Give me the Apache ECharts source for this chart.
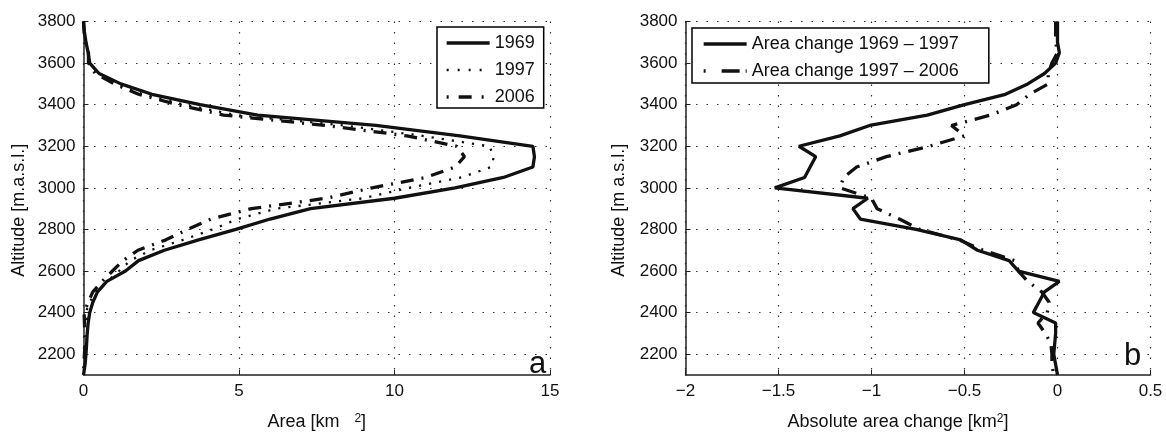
<!DOCTYPE html>
<html>
<head>
<meta charset="utf-8">
<script src="https://cdn.jsdelivr.net/npm/echarts@6/dist/echarts.min.js"></script>
<style>
html,body{margin:0;padding:0;background:#fff;}
#c{width:1166px;height:436px;}
</style>
</head>
<body>
<div id="c"></div>
<script>
const altitude = [3800,3750,3700,3650,3600,3550,3500,3450,3400,3350,3300,3250,3200,3150,3100,3050,3000,2950,2900,2850,2800,2750,2700,2650,2600,2550,2500,2450,2400,2350,2300,2250,2200,2150,2100];
const area1969 = [0,0.03,0.08,0.15,0.2,0.5,1.2,2.2,3.75,5.6,9.4,12.1,14.45,14.5,14.45,13.5,11.95,10.0,7.3,6.0,4.9,3.7,2.6,1.77,1.35,0.75,0.45,0.3,0.2,0.15,0.12,0.1,0.08,0.05,0];
const area1997 = [0,0.03,0.08,0.16,0.19,0.43,1.04,1.92,3.25,4.9,8.4,10.9,13.05,13.2,13.1,12.15,10.45,9.0,6.2,4.95,4.15,3.2,2.15,1.5,1.14,0.76,0.38,0.2,0.07,0.14,0.11,0.085,0.06,0.04,0];
const area2006 = [0,0.02,0.07,0.16,0.16,0.38,0.99,1.77,3.03,4.5,7.8,10.4,12.0,12.25,11.95,11.0,9.28,7.8,5.4,4.1,3.35,2.65,1.75,1.27,0.93,0.6,0.3,0.15,0.02,0.03,0.05,0.05,0.03,0.01,0];
const change6997 = [0,0,0,0.01,-0.01,-0.07,-0.16,-0.28,-0.5,-0.7,-1.01,-1.17,-1.39,-1.3,-1.33,-1.36,-1.52,-1.02,-1.1,-1.06,-0.76,-0.52,-0.43,-0.26,-0.21,0.01,-0.07,-0.1,-0.13,-0.01,-0.01,-0.015,-0.02,-0.01,0];
const change9706 = [-0.01,-0.01,-0.01,0,-0.03,-0.05,-0.05,-0.15,-0.22,-0.36,-0.57,-0.5,-0.69,-0.92,-1.08,-1.15,-1.17,-1.0,-0.97,-0.85,-0.74,-0.53,-0.4,-0.23,-0.21,-0.16,-0.085,-0.045,-0.055,-0.105,-0.065,-0.035,-0.03,-0.03,-0.02];
const altTicks = [2200,2400,2600,2800,3000,3200,3400,3600,3800];
const areaTicks = [0,5,10,15];
const changeTicks = [-2,-1.5,-1,-0.5,0,0.5];
const seriesNamesA = ['1969','1997','2006'];
const seriesNamesB = ['Area change 1969 \u2013 1997','Area change 1997 \u2013 2006'];

const FONT = 'Liberation Sans';
const INK = '#111';
const pairs = (xs) => xs.map((v,i) => [v, altitude[i]]);

const axisLineStyle = {color:'#222', width:1.5};
const gridDots = {type:[1.5,9], color:'#333', width:1.2};
const noSymbol = {color:'rgba(0,0,0,0)', borderWidth:0};

const solidStyle = {color:INK, width:3.3, type:'solid'};
const dotStyle = {color:INK, width:2.3, type:[2.2,8]};
const dashDotStyle = {color:INK, width:3.3, type:[13,8,2,8]};

function yAxis(gi, nameGap){
  return {
    type:'value', gridIndex:gi, min:2100, max:3800,
    name:'Altitude ' + (gi===0 ? '[m.a.s.l.]' : '[m a.s.l.]'),
    nameLocation:'middle', nameGap:nameGap,
    nameTextStyle:{fontFamily:FONT, fontSize:18, color:INK, padding:[0,24,0,0]},
    axisLine:{show:true, onZero:false, lineStyle:axisLineStyle},
    axisTick:{show:true, inside:true, length:5, customValues:altTicks, lineStyle:{color:'#222'}},
    axisLabel:{fontFamily:FONT, fontSize:17, color:INK, margin:8, customValues:altTicks, formatter:(v)=>String(v)},
    splitLine:{show:true, lineStyle:gridDots}
  };
}

const option = {
  animation:false,
  backgroundColor:'#fff',
  grid:[
    {left:83.5, top:21.5, width:466.5, height:360, show:false},
    {left:685.5, top:21.5, width:465, height:360, show:false}
  ],
  xAxis:[
    {type:'value', gridIndex:0, min:areaTicks[0], max:areaTicks[areaTicks.length-1], interval:5,
     name:'Area [km   {s|2}]', nameLocation:'middle', nameGap:38,
     nameTextStyle:{fontFamily:FONT, fontSize:18, color:INK, rich:{s:{fontFamily:FONT, fontSize:12, verticalAlign:'top', color:INK}}},
     axisLine:{show:true, onZero:false, lineStyle:axisLineStyle},
     axisTick:{show:true, inside:true, length:5, lineStyle:{color:'#222'}},
     axisLabel:{fontFamily:FONT, fontSize:17, color:INK, margin:8},
     splitLine:{show:true, lineStyle:gridDots}},
    {type:'value', gridIndex:1, min:changeTicks[0], max:changeTicks[changeTicks.length-1], interval:0.5,
     name:'Absolute area change [km{s|2}]', nameLocation:'middle', nameGap:38,
     nameTextStyle:{fontFamily:FONT, fontSize:18, color:INK, padding:[0,40,0,0], rich:{s:{fontFamily:FONT, fontSize:12, verticalAlign:'top', color:INK}}},
     axisLine:{show:true, onZero:false, lineStyle:axisLineStyle},
     axisTick:{show:true, inside:true, length:5, lineStyle:{color:'#222'}},
     axisLabel:{fontFamily:FONT, fontSize:17, color:INK, margin:8, formatter:(v)=> (v<0 ? '\u2212' + String(-v) : String(v))},
     splitLine:{show:true, lineStyle:gridDots}}
  ],
  yAxis:[ yAxis(0, 55), yAxis(1, 57) ],
  legend:[
    {data:[
       {name:seriesNamesA[0], lineStyle:{width:3.3, type:'solid'}},
       {name:seriesNamesA[1], lineStyle:{width:2.3, type:[2,9]}},
       {name:seriesNamesA[2], lineStyle:{width:3.3, type:[2,10,13,10]}}
     ],
     orient:'vertical', left:437, top:27, itemWidth:43, itemHeight:14, itemGap:9,
     padding:[7,9,2,8], borderColor:'#000', borderWidth:1.5, backgroundColor:'#fff',
     itemStyle:noSymbol,
     textStyle:{fontFamily:FONT, fontSize:18, color:INK}},
    {data:[
       {name:seriesNamesB[0], lineStyle:{width:3.3, type:'solid'}},
       {name:seriesNamesB[1], lineStyle:{width:3.3, type:[2,16,18,6]}}
     ],
     orient:'vertical', left:692, top:28, itemWidth:43, itemHeight:14, itemGap:9,
     padding:[7,30,3,10], borderColor:'#000', borderWidth:1.5, backgroundColor:'#fff',
     itemStyle:noSymbol,
     textStyle:{fontFamily:FONT, fontSize:18, color:INK}}
  ],
  series:[
    {name:seriesNamesA[0], type:'line', xAxisIndex:0, yAxisIndex:0, data:pairs(area1969), symbol:'none', z:4,
     itemStyle:noSymbol, lineStyle:solidStyle},
    {name:seriesNamesA[1], type:'line', xAxisIndex:0, yAxisIndex:0, data:pairs(area1997), symbol:'none', z:3,
     itemStyle:noSymbol, lineStyle:dotStyle},
    {name:seriesNamesA[2], type:'line', xAxisIndex:0, yAxisIndex:0, data:pairs(area2006), symbol:'none', z:3,
     itemStyle:noSymbol, lineStyle:dashDotStyle},
    {name:seriesNamesB[0], type:'line', xAxisIndex:1, yAxisIndex:1, data:pairs(change6997), symbol:'none', z:4,
     itemStyle:noSymbol, lineStyle:solidStyle},
    {name:seriesNamesB[1], type:'line', xAxisIndex:1, yAxisIndex:1, data:pairs(change9706), symbol:'none', z:3,
     itemStyle:noSymbol, lineStyle:{color:INK, width:3.3, type:[15,8,2,8]}}
  ],
  graphic:[
    {type:'text', x:529, y:364, z:10, style:{text:'a', fontSize:31, fontFamily:FONT, fill:INK, align:'left', verticalAlign:'middle'}},
    {type:'text', x:1124, y:356, z:10, style:{text:'b', fontSize:31, fontFamily:FONT, fill:INK, align:'left', verticalAlign:'middle'}}
  ]
};
const chart = echarts.init(document.getElementById('c'), null, {renderer:'canvas'});
chart.setOption(option);
</script>
</body>
</html>
